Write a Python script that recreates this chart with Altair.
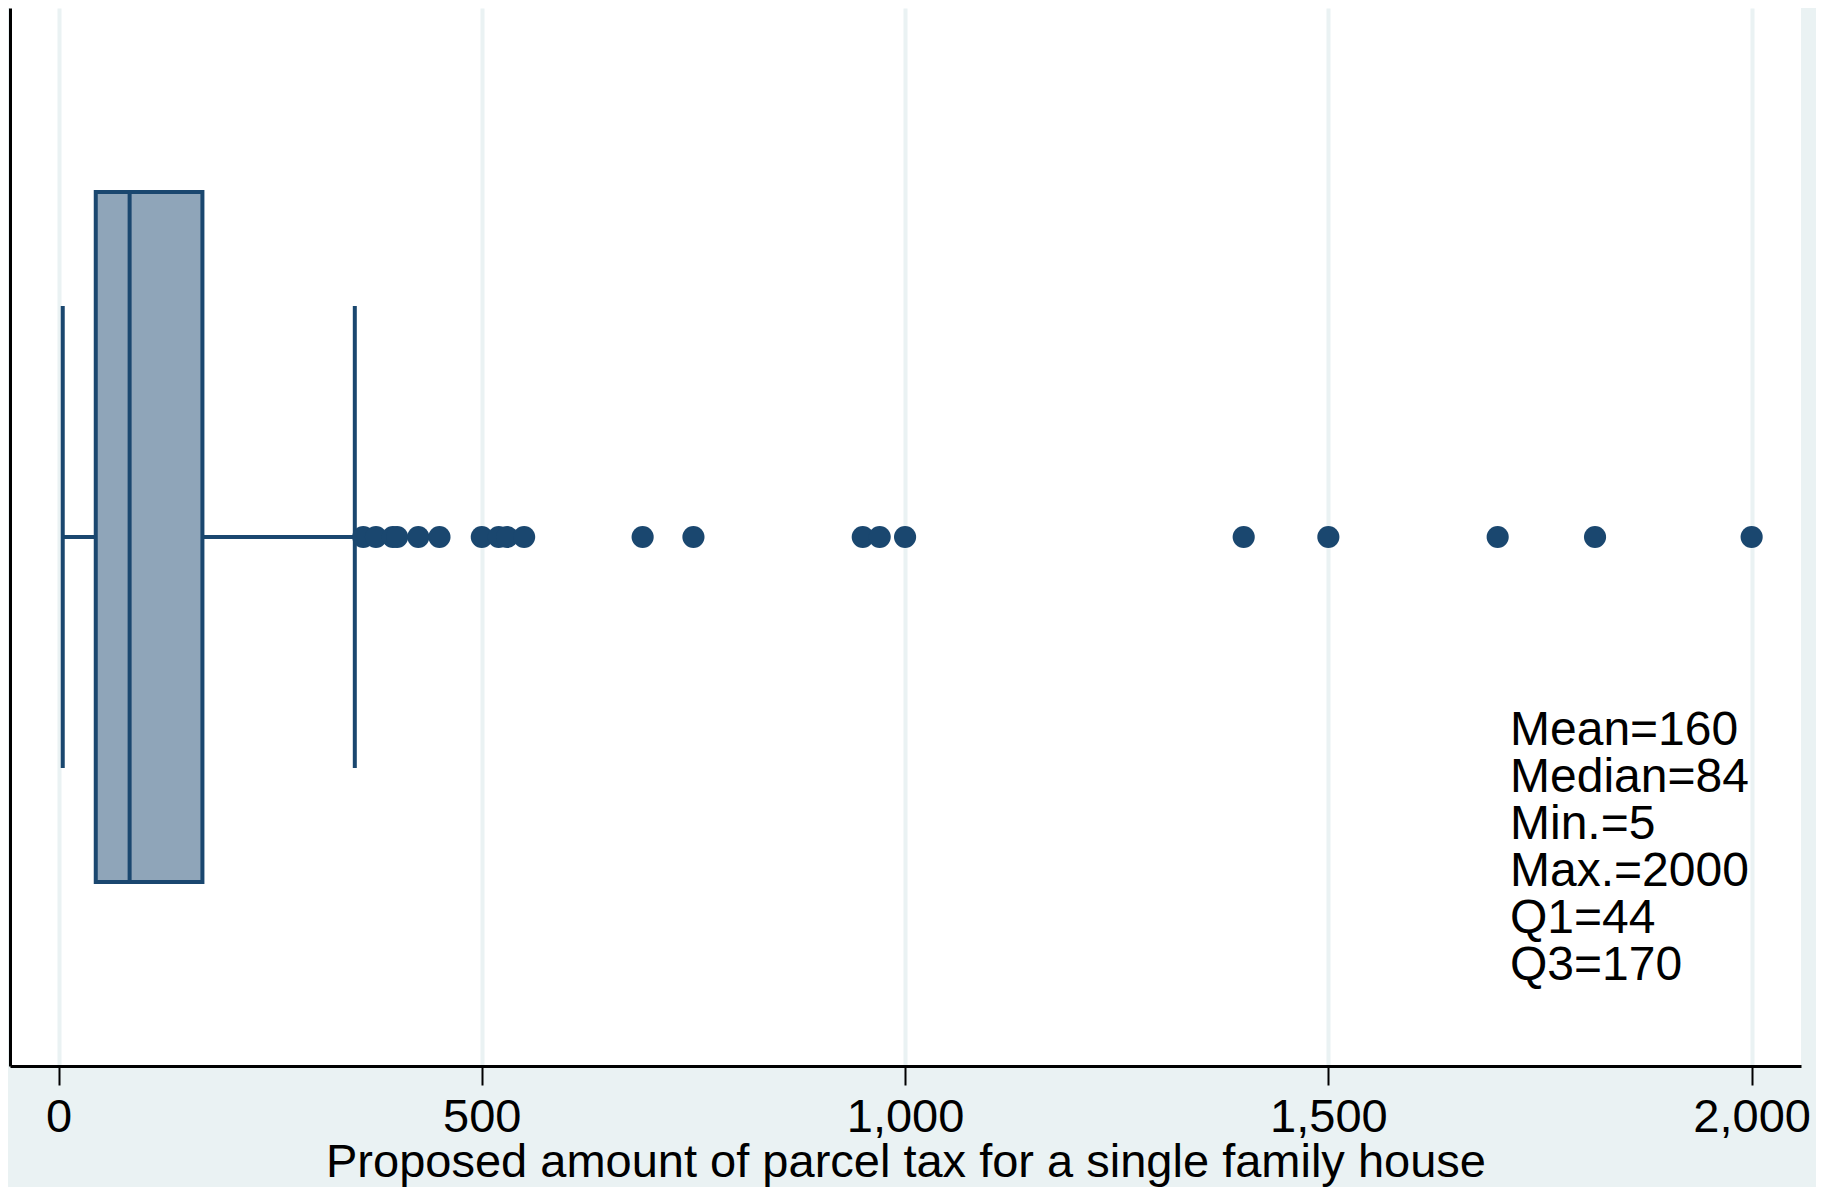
import altair as alt
import pandas as pd

# ---- data ----
min_val = 5
q1 = 44
median = 84
q3 = 170
upper_whisker = 350
outliers = [360, 375, 395, 400, 425, 450, 500, 520, 530, 550, 690, 750,
            950, 970, 1000, 1400, 1500, 1700, 1815, 2000]
x_ticks = [0, 500, 1000, 1500, 2000]
stat_lines = ["Mean=160", "Median=84", "Min.=5", "Max.=2000", "Q1=44", "Q3=170"]
x_title = "Proposed amount of parcel tax for a single family house"

NAVY = "#1A476F"
BOX_FILL = "#8FA5B9"
BG = "#EAF2F3"
FONT = "Liberation Sans"
grp = "parcel"

box_df = pd.DataFrame({"g": [grp], "q1": [q1], "q3": [q3], "median": [median]})
whisk_df = pd.DataFrame({"g": [grp, grp], "a": [min_val, q3], "b": [q1, upper_whisker]})
cap_df = pd.DataFrame({"g": [grp, grp], "v": [min_val, upper_whisker]})
out_df = pd.DataFrame({"g": [grp] * len(outliers), "v": outliers})
text_df = pd.DataFrame({"t": ["\n".join(stat_lines)]})

xscale = alt.Scale(domain=[-57.3, 2058.3], nice=False, zero=False)
xaxis = alt.Axis(values=x_ticks, format=",.0f", grid=True, gridColor=BG, gridWidth=4,
                 domainColor="black", domainWidth=3, tickColor="black", tickWidth=2,
                 tickSize=19, labelFont=FONT, labelFontSize=47, labelColor="black",
                 labelBaseline="alphabetic", labelPadding=46, labelFlush=False,
                 labelOverlap=False, title=x_title, titleFont=FONT, titleFontSize=47,
                 titleFontWeight="normal", titleColor="black",
                 titleBaseline="alphabetic", titleY=110)
yaxis = alt.Axis(labels=False, ticks=False, title=None, grid=False, domain=True,
                 domainColor="black", domainWidth=3)
yenc = alt.Y("g:N", axis=yaxis)

whiskers = alt.Chart(whisk_df).mark_rule(color=NAVY, strokeWidth=4).encode(
    x=alt.X("a:Q", scale=xscale, axis=xaxis), x2="b:Q", y=yenc)

box = alt.Chart(box_df).mark_bar(size=690, fill=BOX_FILL, stroke=NAVY, strokeWidth=4).encode(
    x=alt.X("q1:Q", scale=xscale, axis=xaxis), x2="q3:Q", y=yenc)

med = alt.Chart(box_df).mark_tick(orient="vertical", size=690, thickness=4, color=NAVY, opacity=1).encode(
    x=alt.X("median:Q", scale=xscale, axis=xaxis), y=yenc)

caps = alt.Chart(cap_df).mark_tick(orient="vertical", size=462, thickness=4, color=NAVY, opacity=1).encode(
    x=alt.X("v:Q", scale=xscale, axis=xaxis), y=yenc)

pts = alt.Chart(out_df).mark_circle(size=490, color=NAVY, opacity=1).encode(
    x=alt.X("v:Q", scale=xscale, axis=xaxis), y=yenc)

txt = alt.Chart(text_df).mark_text(align="left", baseline="alphabetic", font=FONT,
                                   fontSize=48, lineHeight=47, lineBreak="\n",
                                   color="black").encode(
    x=alt.value(1500), y=alt.value(737), text="t:N")

chart = alt.layer(whiskers, box, med, caps, pts, txt).properties(
    width=1791, height=1058,
    autosize=alt.AutoSizeParams(type="none"),
    padding={"left": 2, "top": 0, "right": 15, "bottom": 121},
    background=BG,
).configure_view(stroke=None, fill="white")

chart.save("out.html", embed_options={"renderer": "svg", "actions": False})
